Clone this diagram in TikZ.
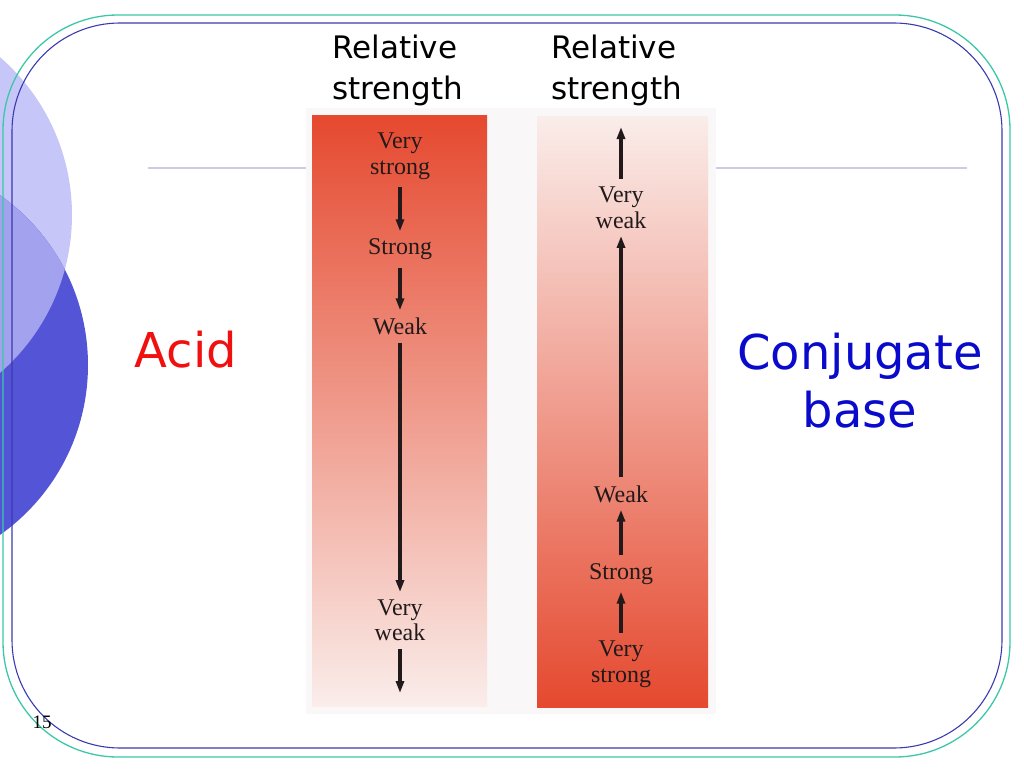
\documentclass[tikz,border=0pt]{standalone}
\usepackage{fontspec}
\setmainfont{Liberation Serif}
\newfontfamily\slidefont{DejaVu Sans}
\usepackage{tikz}
\usetikzlibrary{arrows.meta,positioning}
\definecolor{frameteal}{HTML}{3CC8A8}
\definecolor{frameblue}{HTML}{3A3AB0}
\definecolor{ruleline}{HTML}{CFCBE6}
\definecolor{discpale}{HTML}{C6C6F8}
\definecolor{discdark}{HTML}{5454D6}
\definecolor{discmix}{HTML}{A2A2EF}
\definecolor{acidred}{HTML}{F01010}
\definecolor{baseblue}{HTML}{0A0ACC}
\definecolor{hotred}{HTML}{E5492F}
\definecolor{midredA}{HTML}{F0A090}
\definecolor{midredB}{HTML}{F3B4A8}
\definecolor{palered}{HTML}{FAEDEA}
\definecolor{photo}{HTML}{F9F7F7}
\definecolor{printink}{HTML}{221A1A}
\tikzset{
  >={Triangle[length=12pt,width=8pt]},
  scalearrow/.style={->,line width=3.2pt,draw=printink,shorten <=5pt,shorten >=4pt},
  grade/.style={align=center,font=\fontsize{24}{25.5}\selectfont,text=printink,inner sep=3pt},
  heading/.style={anchor=north west,align=left,font=\slidefont\fontsize{31}{41}\selectfont,inner sep=0pt},
  bigword/.style={align=center,font=\slidefont\fontsize{48}{58}\selectfont,inner sep=0pt}
}

\begin{document}
\begin{tikzpicture}[x=1pt,y=-1pt]
  \useasboundingbox (0,0) rectangle (1024,768);
  % decorative discs
  \fill[discpale] (-137,215) circle (209);
  \fill[discdark] (-120,365) circle (208);
  \begin{scope}
    \clip (-120,365) circle (208);
    \fill[discmix] (-137,215) circle (209);
  \end{scope}
  \draw[ruleline,line width=2pt] (148,168) -- (967,168);
  \draw[frameteal,line width=1.3pt,rounded corners=115pt] (3,15) rectangle (1010,757);
  \draw[frameblue,line width=1.1pt,rounded corners=108pt] (12,23) rectangle (1002,748);
  % the two strength columns
  \fill[photo] (306,108) rectangle (716,714);
  \shade[top color=hotred,middle color=midredA,bottom color=palered] (312,115) rectangle (487,706);
  \shade[top color=palered,middle color=midredB,bottom color=hotred] (537,116) rectangle (708,707);
  \node[heading] (headA) at (332,35) {Relative\\strength};
  \node[heading] (headB) at (551,35) {Relative\\strength};
  % acid side
  \node[grade] (vsA) at (400,156) {Very\\strong};
  \node[grade] (sA) at (400,249) {Strong};
  \node[grade] (wA) at (400,326) {Weak};
  \node[grade] (vwA) at (400,620) {Very\\weak};
  \coordinate (endA) at (400,697);
  \draw[scalearrow] (vsA) -- (sA);
  \draw[scalearrow] (sA) -- (wA);
  \draw[scalearrow] (wA) -- (vwA);
  \draw[scalearrow] (vwA) -- (endA);
  % base side
  \node[grade] (vsB) at (621,664) {Very\\strong};
  \node[grade] (sB) at (621,574) {Strong};
  \node[grade] (wB) at (621,494) {Weak};
  \node[grade] (vwB) at (621,208) {Very\\weak};
  \coordinate (topB) at (621,123);
  \draw[scalearrow] (vsB) -- (sB);
  \draw[scalearrow] (sB) -- (wB);
  \draw[scalearrow] (wB) -- (vwB);
  \draw[scalearrow] (vwB) -- (topB);
  \node[bigword,text=acidred] (acid) at (186,350) {Acid};
  \node[bigword,text=baseblue] (conj) at (860,381) {Conjugate\\base};
  \node[font=\fontsize{19}{20}\selectfont,inner sep=0pt] (slideno) at (42,722) {15};
\end{tikzpicture}
\end{document}
